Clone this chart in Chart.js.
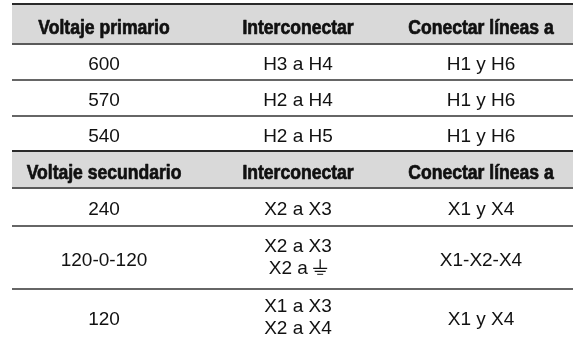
<!DOCTYPE html>
<html>
<head>
<meta charset="utf-8">
<script src="https://cdn.jsdelivr.net/npm/chart.js@4/dist/chart.umd.min.js"></script>
<style>
html,body{margin:0;padding:0;background:#fff;}
#wrap{width:573px;height:341px;position:relative;}
</style>
</head>
<body>
<div id="wrap"><canvas id="c" width="573" height="341"></canvas></div>
<script>
// ---- data ----
const primaryHeaders = ["Voltaje primario", "Interconectar", "Conectar líneas a"];
const primaryVoltages = ["600", "570", "540"];
const primaryInterconnect = [["H3 a H4"], ["H2 a H4"], ["H2 a H5"]];
const primaryLineConnections = ["H1 y H6", "H1 y H6", "H1 y H6"];
const secondaryHeaders = ["Voltaje secundario", "Interconectar", "Conectar líneas a"];
const secondaryVoltages = ["240", "120-0-120", "120"];
const secondaryInterconnect = [["X2 a X3"], ["X2 a X3", "X2 a \u23DA"], ["X1 a X3", "X2 a X4"]];
const secondaryLineConnections = ["X1 y X4", "X1-X2-X4", "X1 y X4"];

// ---- layout (not data) ----
const COL_CENTERS = [92, 286, 469];          // x units, axis starts at table's left edge
const ROW_HEIGHTS = [40, 36, 36, 35, 37, 38, 63, 56]; // y units per table row
const LINE_GAP = 22;
const HEADER_FILL = '#d9d9d9';
const TEXT_COLOR = '#111';
const BODY_SIZE = 19, HEAD_SIZE = 19.5, HEAD_SCALE_X = 0.9;
const BODY_FONT = BODY_SIZE + 'px "Liberation Sans", Arial, sans-serif';
const HEAD_FONT = 'bold ' + HEAD_SIZE + 'px "Liberation Sans", Arial, sans-serif';

// build rows from data
const rows = [];
rows.push({ header: true, cells: primaryHeaders.map(t => [t]) });
primaryVoltages.forEach((v, i) => rows.push({ header: false, cells: [[v], primaryInterconnect[i], [primaryLineConnections[i]]] }));
rows.push({ header: true, cells: secondaryHeaders.map(t => [t]) });
secondaryVoltages.forEach((v, i) => rows.push({ header: false, cells: [[v], secondaryInterconnect[i], [secondaryLineConnections[i]]] }));

let acc = 0;
rows.forEach((r, i) => {
  const h = ROW_HEIGHTS[i];
  r.top = acc; r.bottom = acc + h; acc += h;
});

const borderStyles = {
  headerTop: { color: '#2a2a2a', width: 2 },
  headerBottom: { color: '#5a5a5a', width: 2 },
  rowSep: { color: '#333', width: 1.6 }
};

function drawGround(ctx, x, base) {
  ctx.save();
  ctx.strokeStyle = TEXT_COLOR;
  ctx.lineWidth = 1.3;
  ctx.beginPath();
  ctx.moveTo(x + 7, base - 15); ctx.lineTo(x + 7, base - 6);
  ctx.moveTo(x, base - 6); ctx.lineTo(x + 14, base - 6);
  ctx.moveTo(x + 1.5, base - 3); ctx.lineTo(x + 12.5, base - 3);
  ctx.stroke();
  ctx.lineWidth = 1;
  ctx.beginPath();
  ctx.moveTo(x + 4, base); ctx.lineTo(x + 10, base);
  ctx.stroke();
  ctx.restore();
}

function drawText(ctx, text, cx, base, isHeader) {
  if (text.includes('\u23DA')) {
    const baseTxt = text.replace('\u23DA', '').trimEnd() + ' ';
    const w = ctx.measureText(baseTxt).width;
    const total = w + 14;
    const x0 = cx - total / 2;
    ctx.textAlign = 'left';
    ctx.fillText(baseTxt, x0, base);
    drawGround(ctx, x0 + w, base);
    ctx.textAlign = 'center';
  } else if (isHeader) {
    ctx.save();
    ctx.translate(cx, base);
    ctx.scale(HEAD_SCALE_X, 1);
    ctx.fillText(text, 0, 0);
    ctx.lineWidth = 0.7;
    ctx.strokeStyle = TEXT_COLOR;
    ctx.lineJoin = 'round';
    ctx.strokeText(text, 0, 0);
    ctx.restore();
  } else {
    ctx.fillText(text, cx, base);
  }
}

const tablePlugin = {
  id: 'tablePlugin',
  afterDatasetsDraw(chart) {
    const { ctx, scales: { x, y } } = chart;
    ctx.save();
    const xl = x.getPixelForValue(x.min), xr = x.getPixelForValue(x.max) + 2;
    rows.forEach(r => {
      if (r.header) {
        ctx.fillStyle = HEADER_FILL;
        const t = y.getPixelForValue(r.top), b = y.getPixelForValue(r.bottom);
        ctx.fillRect(xl, t, xr - xl, b - t);
      }
    });
    const hline = (v, st) => {
      const p = Math.round(y.getPixelForValue(v));
      ctx.strokeStyle = st.color; ctx.lineWidth = st.width;
      ctx.beginPath(); ctx.moveTo(xl, p); ctx.lineTo(xr, p); ctx.stroke();
    };
    rows.forEach((r, i) => {
      if (r.header) {
        hline(r.top, borderStyles.headerTop);
        hline(r.bottom, borderStyles.headerBottom);
      } else if (i + 1 < rows.length && !rows[i + 1].header) {
        hline(r.bottom, borderStyles.rowSep);
      }
    });
    ctx.textAlign = 'center';
    ctx.textBaseline = 'alphabetic';
    ctx.fillStyle = TEXT_COLOR;
    rows.forEach(r => {
      ctx.font = r.header ? HEAD_FONT : BODY_FONT;
      const size = r.header ? HEAD_SIZE : BODY_SIZE;
      const midP = y.getPixelForValue((r.top + r.bottom) / 2);
      r.cells.forEach((lines, ci) => {
        const cx = x.getPixelForValue(COL_CENTERS[ci]);
        const n = lines.length;
        const centerP = midP + (r.header ? 3 : (n > 1 ? -1 : 1.5));
        lines.forEach((t, li) => {
          const cy = centerP + (li - (n - 1) / 2) * LINE_GAP;
          const base = cy + 0.716 * size / 2;
          drawText(ctx, t, cx, base, r.header);
        });
      });
    });
    ctx.restore();
  }
};

new Chart(document.getElementById('c'), {
  type: 'scatter',
  data: { datasets: [{ data: [], pointRadius: 0 }] },
  options: {
    responsive: false,
    animation: false,
    events: [],
    layout: { padding: { top: 4, left: 12, right: 0, bottom: 0 } },
    plugins: { legend: { display: false }, tooltip: { enabled: false } },
    scales: {
      x: { type: 'linear', min: 0, max: 561, display: false },
      y: { type: 'linear', min: 0, max: 337, reverse: true, display: false }
    }
  },
  plugins: [tablePlugin]
});
</script>
</body>
</html>
